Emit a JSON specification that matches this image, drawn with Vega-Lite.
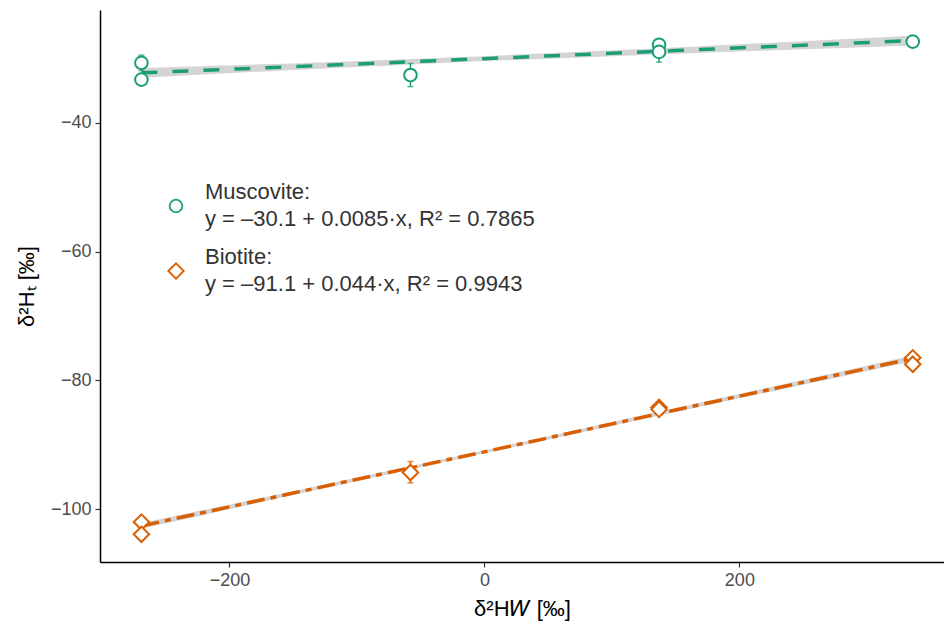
{
  "$schema": "https://vega.github.io/schema/vega-lite/v6.json",
  "width": 844,
  "height": 552,
  "autosize": {"type": "none"},
  "padding": {"left": 100, "top": 10, "right": 0, "bottom": 67},
  "background": "white",
  "config": {
    "font": "Liberation Sans",
    "view": {"stroke": null},
    "axis": {
      "grid": false,
      "domainColor": "black",
      "domainWidth": 1.5,
      "tickColor": "#333333",
      "tickWidth": 1.2,
      "tickSize": 5,
      "labelFont": "Liberation Sans",
      "labelFontSize": 18,
      "labelColor": "#4d4d4d",
      "labelPadding": 4,
      "titleFont": "Liberation Sans",
      "titleFontSize": 22,
      "titleFontWeight": "normal",
      "titleColor": "black"
    }
  },
  "datasets": {
    "points": [
      {"dH_W": -269, "dH_t": -30.7, "lo": -31.9, "hi": -29.5, "mineral": "Muscovite"},
      {"dH_W": -269, "dH_t": -33.3, "lo": -33.8, "hi": -32.8, "mineral": "Muscovite"},
      {"dH_W": -58, "dH_t": -32.6, "lo": -34.4, "hi": -30.8, "mineral": "Muscovite"},
      {"dH_W": 137, "dH_t": -27.9, "lo": -28.4, "hi": -27.4, "mineral": "Muscovite"},
      {"dH_W": 137, "dH_t": -29.0, "lo": -30.6, "hi": -27.4, "mineral": "Muscovite"},
      {"dH_W": 336, "dH_t": -27.4, "lo": -27.8, "hi": -27.0, "mineral": "Muscovite"},
      {"dH_W": -269, "dH_t": -102.0, "lo": -102.4, "hi": -101.6, "mineral": "Biotite"},
      {"dH_W": -269, "dH_t": -103.9, "lo": -104.3, "hi": -103.5, "mineral": "Biotite"},
      {"dH_W": -58, "dH_t": -94.3, "lo": -95.9, "hi": -92.6, "mineral": "Biotite"},
      {"dH_W": 137, "dH_t": -84.2, "lo": -84.5, "hi": -83.9, "mineral": "Biotite"},
      {"dH_W": 137, "dH_t": -84.5, "lo": -84.8, "hi": -84.2, "mineral": "Biotite"},
      {"dH_W": 336, "dH_t": -76.5, "lo": -76.9, "hi": -76.1, "mineral": "Biotite"},
      {"dH_W": 336, "dH_t": -77.5, "lo": -77.9, "hi": -77.1, "mineral": "Biotite"}
    ],
    "fit": [
      {"dH_W": -269, "fit": -32.25, "lo": -33.0, "hi": -31.5, "mineral": "Muscovite"},
      {"dH_W": -150, "fit": -31.3, "lo": -31.8, "hi": -30.8, "mineral": "Muscovite"},
      {"dH_W": 0, "fit": -30.05, "lo": -30.43, "hi": -29.67, "mineral": "Muscovite"},
      {"dH_W": 150, "fit": -28.8, "lo": -29.28, "hi": -28.32, "mineral": "Muscovite"},
      {"dH_W": 336, "fit": -27.25, "lo": -28.0, "hi": -26.5, "mineral": "Muscovite"},
      {"dH_W": -269, "fit": -102.6, "lo": -103.05, "hi": -102.15, "mineral": "Biotite"},
      {"dH_W": -150, "fit": -97.5, "lo": -97.8, "hi": -97.2, "mineral": "Biotite"},
      {"dH_W": 0, "fit": -91.1, "lo": -91.32, "hi": -90.88, "mineral": "Biotite"},
      {"dH_W": 150, "fit": -84.6, "lo": -84.9, "hi": -84.3, "mineral": "Biotite"},
      {"dH_W": 336, "fit": -76.6, "lo": -77.05, "hi": -76.15, "mineral": "Biotite"}
    ]
  },
  "layer": [
    {
      "data": {"name": "fit"},
      "mark": {"type": "area", "color": "#cccccc", "opacity": 0.85},
      "encoding": {
        "x": {"field": "dH_W", "type": "quantitative"},
        "y": {"field": "lo", "type": "quantitative"},
        "y2": {"field": "hi"},
        "detail": {"field": "mineral"}
      }
    },
    {
      "data": {"name": "fit"},
      "mark": {"type": "line", "strokeWidth": 3.5, "strokeCap": "butt"},
      "encoding": {
        "x": {"field": "dH_W", "type": "quantitative"},
        "y": {"field": "fit", "type": "quantitative"},
        "color": {"field": "mineral", "type": "nominal"},
        "strokeDash": {
          "condition": {"test": "datum.mineral == 'Muscovite'", "value": [16, 15]},
          "value": [18, 6, 6, 6]
        }
      }
    },
    {
      "data": {"name": "points"},
      "mark": {"type": "rule", "strokeWidth": 1.5},
      "encoding": {
        "x": {"field": "dH_W", "type": "quantitative"},
        "y": {"field": "lo", "type": "quantitative"},
        "y2": {"field": "hi"},
        "color": {"field": "mineral", "type": "nominal"}
      }
    },
    {
      "data": {"name": "points"},
      "mark": {"type": "tick", "orient": "horizontal", "size": 6, "thickness": 1.5},
      "encoding": {
        "x": {"field": "dH_W", "type": "quantitative"},
        "y": {"field": "lo", "type": "quantitative"},
        "color": {"field": "mineral", "type": "nominal"}
      }
    },
    {
      "data": {"name": "points"},
      "mark": {"type": "tick", "orient": "horizontal", "size": 6, "thickness": 1.5},
      "encoding": {
        "x": {"field": "dH_W", "type": "quantitative"},
        "y": {"field": "hi", "type": "quantitative"},
        "color": {"field": "mineral", "type": "nominal"}
      }
    },
    {
      "data": {"name": "points"},
      "mark": {"type": "point", "filled": false, "fill": "white", "fillOpacity": 1, "strokeWidth": 2, "opacity": 1},
      "encoding": {
        "x": {
          "field": "dH_W", "type": "quantitative",
          "scale": {"domain": [-301.5, 360.5], "nice": false, "zero": false},
          "axis": {"values": [-200, 0, 200], "title": "δ²H𝑊  [‰]", "titlePadding": 9}
        },
        "y": {
          "field": "dH_t", "type": "quantitative",
          "scale": {"domain": [-108.2, -22.5], "nice": false, "zero": false},
          "axis": {"values": [-100, -80, -60, -40], "title": "δ²Hₜ  [‰]", "titlePadding": 12}
        },
        "color": {
          "field": "mineral", "type": "nominal",
          "scale": {"domain": ["Muscovite", "Biotite"], "range": ["#1b9e77", "#d95f02"]},
          "legend": {
            "title": null,
            "orient": "none",
            "legendX": 65,
            "legendY": 185,
            "labelFontSize": 22,
            "labelColor": "#333333",
            "labelLimit": 0,
            "labelOffset": 18,
            "rowPadding": 16,
            "symbolSize": 150,
            "labelExpr": "datum.label == 'Muscovite' ? ['Muscovite:', 'y = –30.1 + 0.0085·x, R² = 0.7865'] : ['Biotite:', 'y = –91.1 + 0.044·x, R² = 0.9943']",
            "encoding": {
              "labels": {"lineHeight": {"value": 27}, "dy": {"value": -14}},
              "symbols": {
                "fillOpacity": {"value": 0},
                "opacity": {"value": 1},
                "strokeWidth": {"value": 1.8},
                "stroke": {"value": {"expr": "scale('color', datum.value)"}}
              }
            }
          }
        },
        "shape": {
          "field": "mineral", "type": "nominal",
          "scale": {"domain": ["Muscovite", "Biotite"], "range": ["circle", "diamond"]}
        },
        "size": {
          "field": "mineral", "type": "nominal", "legend": null,
          "scale": {"domain": ["Muscovite", "Biotite"], "range": [160, 240]}
        }
      }
    }
  ]
}
